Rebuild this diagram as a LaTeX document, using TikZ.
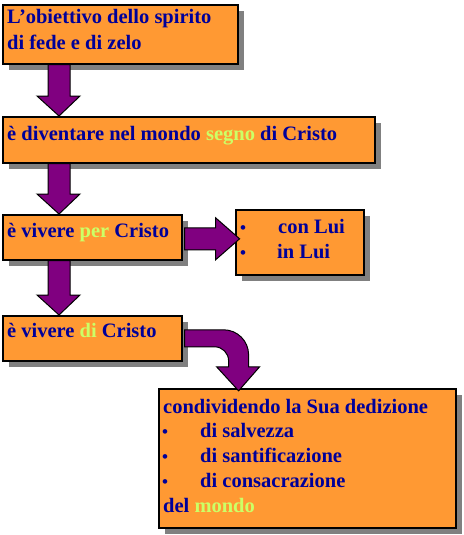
\documentclass[tikz,border=0pt]{standalone}
\usepackage{fontspec}
\setmainfont{Liberation Serif}
\usetikzlibrary{calc,shadows}
\definecolor{boxorange}{HTML}{FF9933}
\definecolor{textnavy}{HTML}{000099}
\definecolor{hilite}{HTML}{CCFF66}
\definecolor{arrowpurple}{HTML}{800080}
\definecolor{shadowgrey}{HTML}{808080}
\newcommand{\hl}[1]{\textcolor{hilite}{#1}}

\begin{document}
\begin{tikzpicture}[x=1pt,y=-1pt,
  box/.style={draw=black,line width=1.6pt,fill=boxorange,anchor=north west,inner sep=0pt,
    drop shadow={shadow xshift=6pt,shadow yshift=-6pt,fill=shadowgrey,opacity=1}},
  txt/.style={anchor=base west,inner sep=0pt,text=textnavy,font=\fontsize{20.5}{24}\selectfont\bfseries},
  dot/.style={anchor=base west,inner sep=0pt,text=textnavy,font=\fontsize{17}{17}\selectfont\bfseries},
  blockarrow/.style={draw=black,line width=1pt,fill=arrowpurple,line join=miter}]
\useasboundingbox (0,0) rectangle (463,535);
% boxes
\node[box,minimum width=235pt,minimum height=59pt] (obj) at (2,4) {};
\node[box,minimum width=372pt,minimum height=46pt] (sign) at (2,116) {};
\node[box,minimum width=179pt,minimum height=45pt] (per) at (2,214) {};
\node[box,minimum width=128pt,minimum height=65pt] (lui) at (235,209) {};
\node[box,minimum width=179pt,minimum height=45pt] (di) at (2,315) {};
\node[box,minimum width=297pt,minimum height=139pt] (share) at (158,388) {};
% texts
\node[txt] (obj-a) at (7,24) {L’obiettivo dello spirito};
\node[txt] (obj-b) at (7,49) {di fede e di zelo};
\node[txt] (sign-t) at (7,140) {è diventare nel mondo \hl{segno} di Cristo};
\node[txt] (per-t) at (7,237) {è vivere \hl{per} Cristo};
\node[dot] (lui-d1) at (240,233) {\textbullet};
\node[txt] (lui-a) at (278,233) {con Lui};
\node[dot] (lui-d2) at (240,258) {\textbullet};
\node[txt] (lui-b) at (277,258) {in Lui};
\node[txt] (di-t) at (7,337) {è vivere \hl{di} Cristo};
\node[txt] (share-a) at (163,413) {condividendo la Sua dedizione};
\foreach \t [count=\i] in {di salvezza,di santificazione,di consacrazione}{
  \node[dot] (share-d\i) at (162,412+25*\i) {\textbullet};
  \node[txt] (share-\i) at (200,412+25*\i) {\t};
}
\node[txt] (share-z) at (163,512) {del \hl{mondo}};
% arrows
\foreach \a/\b in {obj/sign,sign/per,per/di}
  \draw[blockarrow] let \p1=(\a.south west), \p2=(\b.north west) in
    (\x1+46pt,\y1) -- (\x1+68pt,\y1) -- (\x1+68pt,\y2+20pt) -- (\x1+78pt,\y2+20pt)
    -- (\x1+57pt,\y2) -- (\x1+35pt,\y2+20pt) -- (\x1+46pt,\y2+20pt) -- cycle;
\draw[blockarrow] ($(per.east)+(2,-9.5)$) -- ++(31,0) -- ++(0,-10) -- ++(24,21)
  -- ++(-24,21) -- ++(0,-10) -- ++(-31,0) -- cycle;
\draw[blockarrow] ($(di.east)+(2,-8.5)$) -- ++(39,0)
  arc[start angle=-90,end angle=0,radius=25] -- ++(0,12) -- ++(11,0) -- ++(-21,24)
  -- ++(-22,-24) -- ++(12,0) -- ++(0,-6) arc[start angle=0,end angle=-90,radius=14]
  -- ++(-30,0) -- cycle;
\end{tikzpicture}
\end{document}
